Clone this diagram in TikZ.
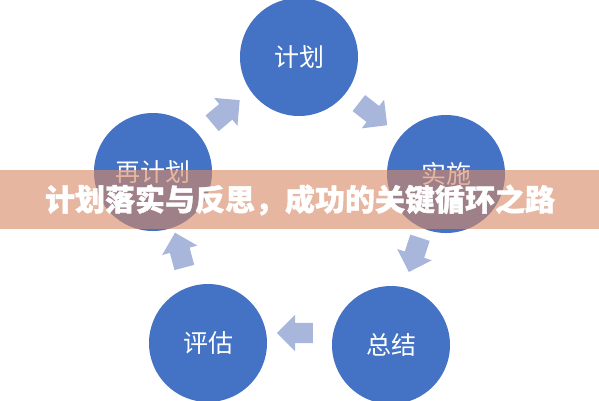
\documentclass[tikz,border=0pt]{standalone}
\usepackage{fontspec}
\newfontfamily\cjk{Noto Sans CJK SC}[BoldFeatures={FakeBold=1.2}]
\usetikzlibrary{positioning,shapes.arrows}
\definecolor{stageblue}{RGB}{68,114,196}
\definecolor{flowblue}{RGB}{169,182,220}
\definecolor{bannerred}{RGB}{216,137,101}

\begin{document}
\begin{tikzpicture}[
  x=1pt, y=-1pt,
  stage/.style={circle, fill=stageblue, minimum size=118pt, inner sep=0pt,
    text=white, font=\cjk\fontsize{25}{25}\selectfont},
  flow/.style={single arrow, fill=flowblue, inner xsep=0pt, inner ysep=10pt,
    minimum height=36pt, single arrow head extend=8pt, single arrow head indent=0pt},
  title/.style={text=white, font=\cjk\bfseries\fontsize{30}{30}\selectfont}
]
  \useasboundingbox (0,0) rectangle (599,400);
  \clip (0,0) rectangle (599,400);

  % the five stages of the cycle
  \node[stage] (plan)   at (299,57)  {计划};
  \node[stage] (act)    at (446,174) {实施};
  \node[stage] (review) at (391,345) {总结};
  \node[stage] (assess) at (208,343) {评估};
  \node[stage] (replan) at (153,172) {再计划};

  % arrows between the stages
  \node[flow, rotate=-38]  (f1) at (369,111) {};
  \node[flow, rotate=-108] (f2) at (416,250) {};
  \node[flow, rotate=180]  (f3) at (300,333) {};
  \node[flow, rotate=105]  (f4) at (181,255) {};
  \node[flow, rotate=40]   (f5) at (222,115) {};

  % banner
  \fill[bannerred, opacity=0.62] (0,170) rectangle (599,229);
  \node[title] (head) at (300,200) {计划落实与反思，成功的关键循环之路};
\end{tikzpicture}
\end{document}
